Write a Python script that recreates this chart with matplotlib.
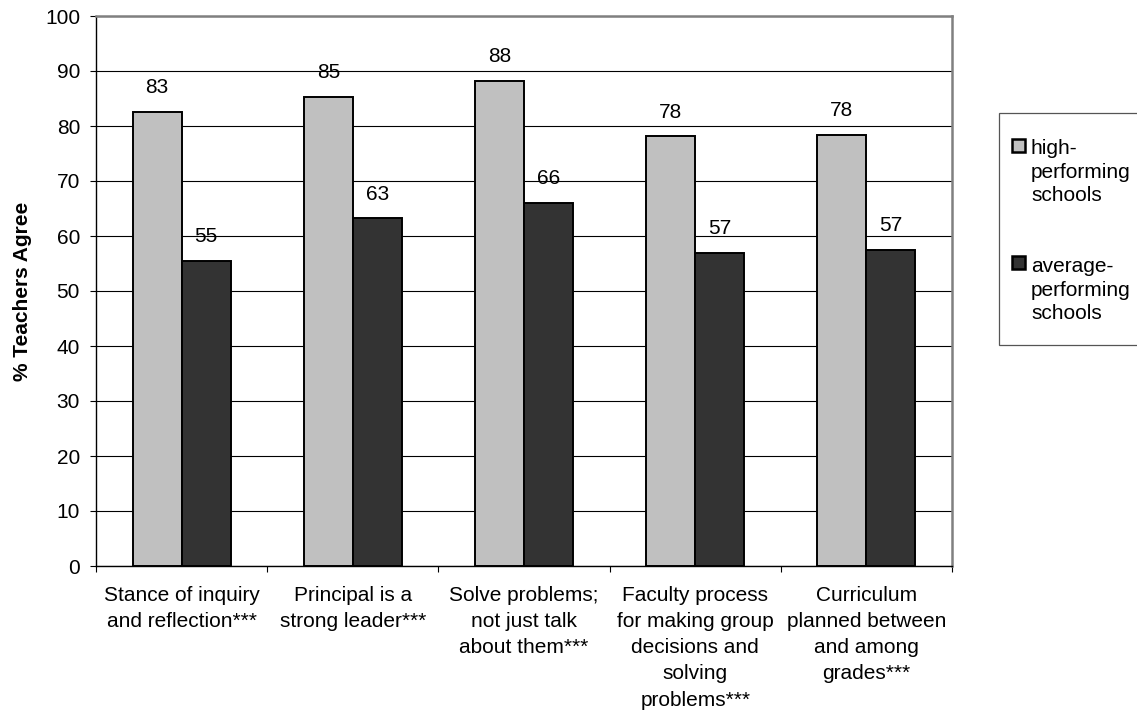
import numpy as np
import matplotlib
matplotlib.use("Agg")
import matplotlib.pyplot as plt
from matplotlib.patches import Rectangle

plt.rcParams["font.family"] = ["Liberation Sans", "DejaVu Sans"]

# ── data ──────────────────────────────────────────────────────────────────────
categories = [
    "Stance of inquiry\nand reflection***",
    "Principal is a\nstrong leader***",
    "Solve problems;\nnot just talk\nabout them***",
    "Faculty process\nfor making group\ndecisions and\nsolving\nproblems***",
    "Curriculum\nplanned between\nand among\ngrades***",
]
high_vals = [82.5, 85.3, 88.2, 78.1, 78.4]
avg_vals = [55.4, 63.2, 66.0, 56.9, 57.5]
high_labels = ["83", "85", "88", "78", "78"]
avg_labels = ["55", "63", "66", "57", "57"]
series_names = ["high-\nperforming\nschools", "average-\nperforming\nschools"]
yticks = list(range(0, 101, 10))

LIGHT, DARK = "#C0C0C0", "#333333"
FS = 15
W_PX, H_PX = 1137, 719

fig = plt.figure(figsize=(W_PX / 100, H_PX / 100), dpi=100)
ax = fig.add_axes([96 / W_PX, (H_PX - 566) / H_PX, (952 - 96) / W_PX, 550 / H_PX])

x = np.arange(len(categories))
w = 1 / 3.5
ax.bar(x - w / 2, high_vals, w, color=LIGHT, edgecolor="black", linewidth=1.4, zorder=3)
ax.bar(x + w / 2, avg_vals, w, color=DARK, edgecolor="black", linewidth=1.4, zorder=3)

for xi, v, lab in zip(x - w / 2, high_vals, high_labels):
    ax.annotate(lab, (xi, v), xytext=(0, 17.5), textcoords="offset points",
                ha="center", va="center", fontsize=FS)
for xi, v, lab in zip(x + w / 2, avg_vals, avg_labels):
    ax.annotate(lab, (xi, v), xytext=(0, 17.5), textcoords="offset points",
                ha="center", va="center", fontsize=FS)

ax.set_xlim(-0.5, len(categories) - 0.5)
ax.set_ylim(0, 100)
ax.set_yticks(yticks)
ax.tick_params(axis="y", direction="out", length=4.5, width=0.8, pad=7, labelsize=FS)
ax.set_xticks(np.arange(-0.5, len(categories), 1.0))
ax.set_xticklabels([])
ax.tick_params(axis="x", direction="out", length=4.5, width=0.8)
ax.yaxis.grid(True, color="black", linewidth=0.8, zorder=0)
ax.set_axisbelow(True)

for side in ("left", "bottom"):
    ax.spines[side].set_color("black")
    ax.spines[side].set_linewidth(1.0)
for side in ("top", "right"):
    ax.spines[side].set_color("#808080")
    ax.spines[side].set_linewidth(1.8)

# category labels under each group
for xi, lab in zip(x, categories):
    ax.text(xi, -3.6, lab, ha="center", va="top", fontsize=FS, linespacing=1.48)

fig.text(23 / W_PX, 1 - 291 / H_PX, "% Teachers Agree", rotation=90,
         ha="center", va="center", fontsize=FS, fontweight="bold")

# ── legend drawn by hand ──────────────────────────────────────────────────────
fig.patches.append(Rectangle((998.7 / W_PX, 1 - 345 / H_PX), 200 / W_PX, (345 - 112.7) / H_PX,
                             transform=fig.transFigure, facecolor="white",
                             edgecolor="#555555", linewidth=0.9))
for (yc, ytxt), col, name in zip([(145, 172), (263, 290)], [LIGHT, DARK], series_names):
    fig.patches.append(Rectangle((1012 / W_PX, 1 - (yc + 6.5) / H_PX), 13 / W_PX, 13 / H_PX,
                                 transform=fig.transFigure, facecolor=col,
                                 edgecolor="black", linewidth=1.8))
    fig.text(1031 / W_PX, 1 - ytxt / H_PX, name, ha="left", va="center",
             fontsize=FS, linespacing=1.33)

fig.savefig("out.png", dpi=100)
